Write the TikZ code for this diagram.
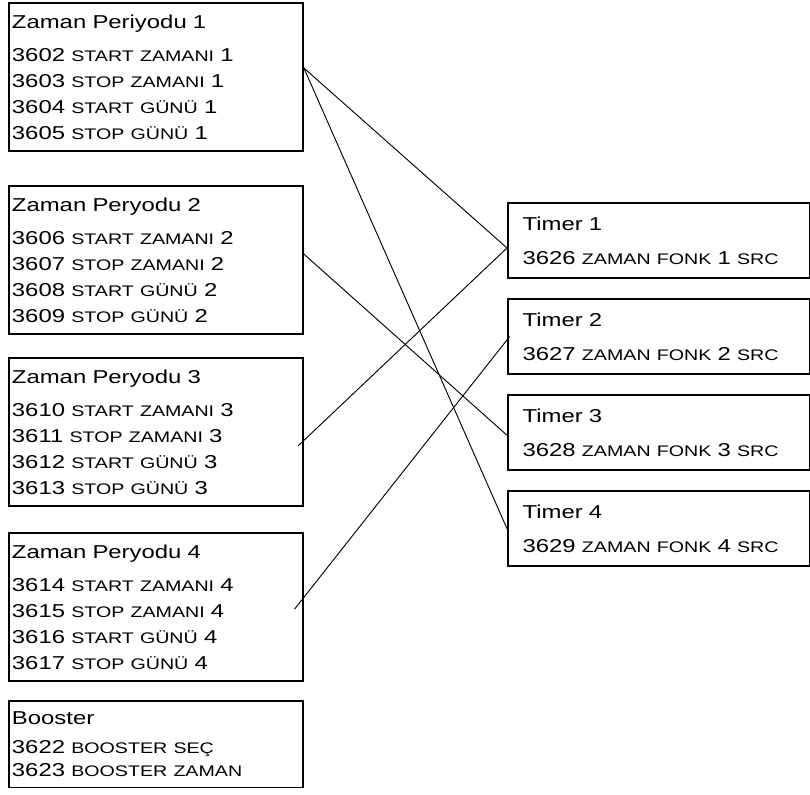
\documentclass[tikz,border=0pt]{standalone}
\usepackage{fontspec}
\newfontfamily\boxfont[FakeStretch=1.28]{Liberation Sans}
\usetikzlibrary{positioning}
\newcommand{\smc}[1]{{\fontsize{11.5pt}{12pt}\selectfont #1}}

\begin{document}
\begin{tikzpicture}[
  x=0.75pt, y=-0.75pt,
  every node/.style={font=\boxfont\fontsize{14pt}{19.5pt}\selectfont},
  par/.style={draw, line width=1.4pt, anchor=north west, align=left,
              text width=216pt, inner xsep=2.25pt, inner ysep=8.8pt},
  tmr/.style={draw, line width=1.4pt, anchor=north west, align=left,
              text width=204.5pt, inner xsep=11pt, inner ysep=10.3pt},
  link/.style={line width=0.7pt}
]
  \useasboundingbox (0,0) rectangle (810,795);
  % time periods on the left
  \node[par] (zp1) at (8,2) {Zaman Periyodu 1\\[5.25pt]
    3602 \smc{START ZAMANI} 1\\ 3603 \smc{STOP ZAMANI} 1\\
    3604 \smc{START GÜNÜ} 1\\ 3605 \smc{STOP GÜNÜ} 1};
  \node[par, below=24.75pt of zp1] (zp2) {Zaman Peryodu 2\\[5.25pt]
    3606 \smc{START ZAMANI} 2\\ 3607 \smc{STOP ZAMANI} 2\\
    3608 \smc{START GÜNÜ} 2\\ 3609 \smc{STOP GÜNÜ} 2};
  \node[par, below=16.5pt of zp2] (zp3) {Zaman Peryodu 3\\[5.25pt]
    3610 \smc{START ZAMANI} 3\\ 3611 \smc{STOP ZAMANI} 3\\
    3612 \smc{START GÜNÜ} 3\\ 3613 \smc{STOP GÜNÜ} 3};
  \node[par, below=18.75pt of zp3] (zp4) {Zaman Peryodu 4\\[5.25pt]
    3614 \smc{START ZAMANI} 4\\ 3615 \smc{STOP ZAMANI} 4\\
    3616 \smc{START GÜNÜ} 4\\ 3617 \smc{STOP GÜNÜ} 4};
  \node[par, below=13.5pt of zp4, inner ysep=8pt,
        font=\boxfont\fontsize{14pt}{17pt}\selectfont]
    (bst) {Booster\\[5pt]
    3622 \smc{BOOSTER SEÇ}\\ 3623 \smc{BOOSTER ZAMAN}};
  % timers on the right
  \node[tmr] (t1) at (507,202) {Timer 1\\[6pt] 3626 \smc{ZAMAN FONK} 1 \smc{SRC}};
  \node[tmr, below=14.25pt of t1] (t2) {Timer 2\\[6pt] 3627 \smc{ZAMAN FONK} 2 \smc{SRC}};
  \node[tmr, below=14.25pt of t2] (t3) {Timer 3\\[6pt] 3628 \smc{ZAMAN FONK} 3 \smc{SRC}};
  \node[tmr, below=14.25pt of t3] (t4) {Timer 4\\[6pt] 3629 \smc{ZAMAN FONK} 4 \smc{SRC}};
  % links
  \draw[link] ([yshift=6.75pt]zp1.east) -- ([yshift=-5.6pt]t1.west);
  \draw[link] ([yshift=6.75pt]zp1.east) -- (t4.west);
  \draw[link] ([yshift=4.5pt]zp2.east) -- ([yshift=-2pt]t3.west);
  \draw[link] ([xshift=-4.5pt,yshift=-10.5pt]zp3.east) -- ([yshift=-5.6pt]t1.west);
  \draw[link] ([xshift=-7pt,yshift=-1.5pt]zp4.east) -- ([xshift=2pt]t2.west);
\end{tikzpicture}
\end{document}
